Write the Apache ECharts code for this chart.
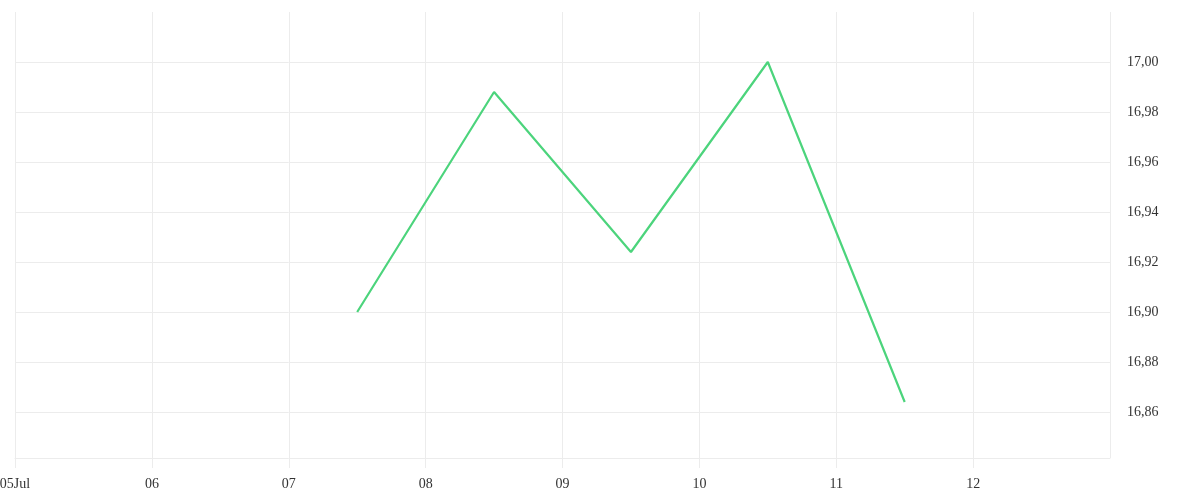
<!DOCTYPE html>
<meta charset="utf-8">
<script src="https://cdn.jsdelivr.net/npm/echarts@6/dist/echarts.min.js"></script>
<style>html,body{margin:0;padding:0;background:#fff}#chart{width:1200px;height:500px}</style>
<body>
<div id="chart"></div>
<script>

var dates = ['2021-07-07 12:00', '2021-07-08 12:00', '2021-07-09 12:00', '2021-07-10 12:00', '2021-07-11 12:00'];
var prices = [16.900, 16.988, 16.924, 17.000, 16.864];
var axisStart = '2021-07-05 00:00';
var axisEnd = '2021-07-13 00:00';

var toTime = function( s ){
	var p = s.split(/[- :]/);
	return new Date( +p[0], +p[1] - 1, +p[2], +p[3], +p[4] ).getTime();
}

var seriesData = [];
for( var i = 0; i < dates.length; ++i ) seriesData.push( [ toTime( dates[ i ] ), prices[ i ] ] );

var font = 'Liberation Serif';
var gridColor = '#ececec';

var chart = echarts.init( document.getElementById('chart') );
var option = {
	animation: false,
	grid: { left: 15, right: 90, top: 12, bottom: 42, containLabel: false, outerBoundsMode: 'none' },
	xAxis: {
		type: 'time',
		min: toTime( axisStart ),
		max: toTime( axisEnd ),
		interval: 86400000,
		minInterval: 86400000,
		maxInterval: 86400000,
		axisLine: { show: true, lineStyle: { color: gridColor, width: 1 } },
		axisTick: { show: true, inside: false, length: 10, lineStyle: { color: gridColor, width: 1 } },
		splitLine: { show: true, lineStyle: { color: gridColor } },
		axisLabel: {
			color: '#333', fontFamily: font, fontSize: 14, margin: 19,
			showMaxLabel: false,
			formatter: function( v ){
				var d = new Date( v );
				var dd = ( d.getDate() < 10 ? '0' : '' ) + d.getDate();
				return v === toTime( axisStart ) ? dd + 'Jul' : dd;
			}
		}
	},
	yAxis: {
		type: 'value',
		position: 'right',
		min: 16.8416,
		max: 17.02,
		splitNumber: 9,
		axisLine: { show: false },
		axisTick: { show: false },
		splitLine: { show: true, showMinLine: false, showMaxLine: false, lineStyle: { color: gridColor } },
		axisLabel: {
			color: '#333', fontFamily: font, fontSize: 14, margin: 17,
			showMinLabel: false, showMaxLabel: false,
			formatter: function( v ){ return v.toFixed( 2 ).replace( '.', ',' ); }
		}
	},
	series: [{
		type: 'line',
		data: seriesData,
		showSymbol: false,
		symbol: 'none',
		lineStyle: { color: '#4cd47c', width: 2.2 }
	}]
};
chart.setOption( option );
</script>
</body>
